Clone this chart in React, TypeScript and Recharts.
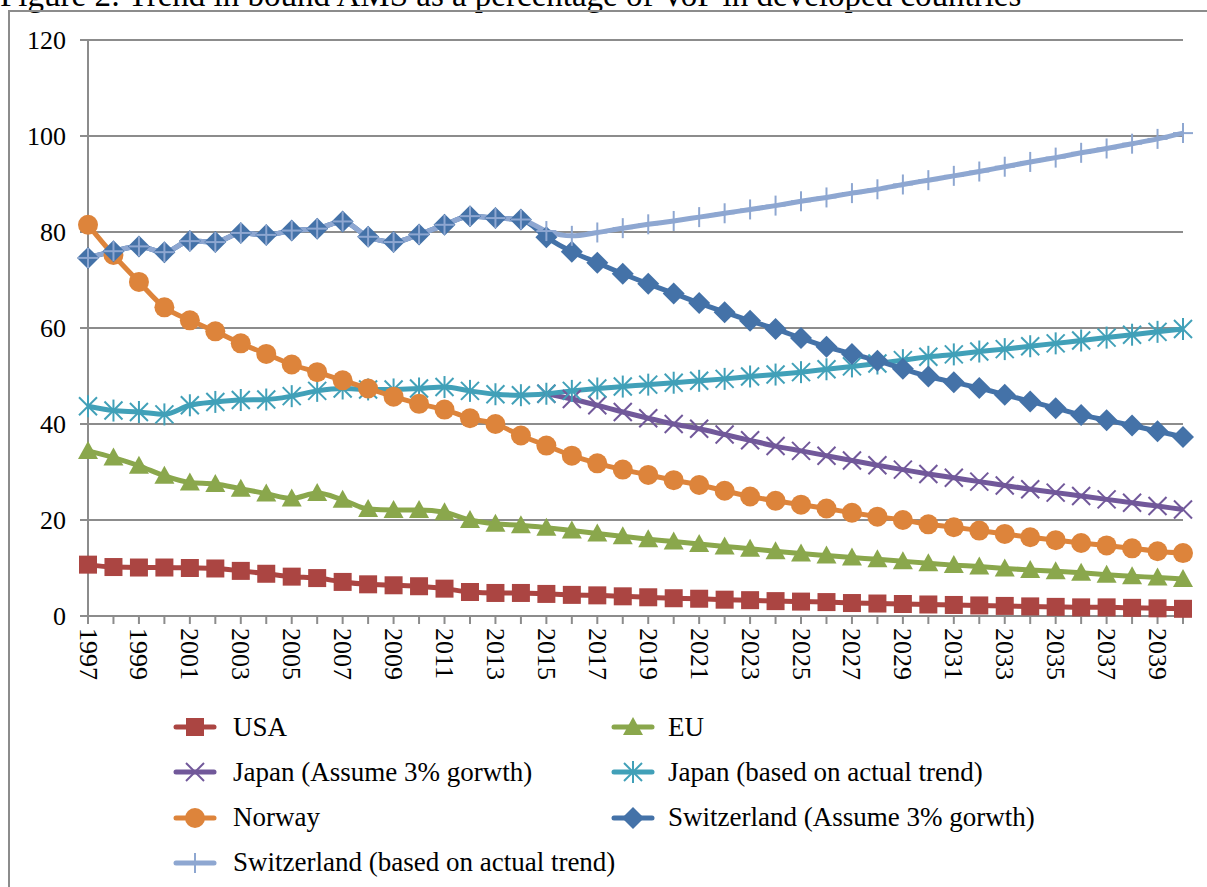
import React from 'react';
import { LineChart, Line, XAxis, YAxis, CartesianGrid, Legend } from 'recharts';

const FONT = "'Liberation Serif', 'Times New Roman', serif";
const GRID = '#8c8c8c';

const years = [
  '1997', '1998', '1999', '2000', '2001', '2002', '2003', '2004', '2005', '2006',
  '2007', '2008', '2009', '2010', '2011', '2012', '2013', '2014', '2015', '2016',
  '2017', '2018', '2019', '2020', '2021', '2022', '2023', '2024', '2025', '2026',
  '2027', '2028', '2029', '2030', '2031', '2032', '2033', '2034', '2035', '2036',
  '2037', '2038', '2039', '2040',
];

const usa = [
  10.7, 10.2, 10.1, 10.1, 10.0, 9.9, 9.4, 8.8, 8.2, 7.9,
  7.1, 6.6, 6.4, 6.2, 5.7, 5.0, 4.8, 4.8, 4.6, 4.4,
  4.3, 4.1, 3.9, 3.7, 3.6, 3.4, 3.3, 3.1, 3.0, 2.9,
  2.7, 2.6, 2.5, 2.4, 2.3, 2.2, 2.1, 2.0, 1.9, 1.8,
  1.8, 1.7, 1.6, 1.5,
];

const eu = [
  34.4, 33.0, 31.3, 29.2, 27.8, 27.5, 26.5, 25.5, 24.5, 25.6,
  24.2, 22.3, 22.1, 22.1, 21.6, 20.0, 19.2, 18.9, 18.4, 17.8,
  17.2, 16.6, 16.0, 15.5, 15.0, 14.5, 14.0, 13.5, 13.0, 12.6,
  12.2, 11.8, 11.4, 11.0, 10.6, 10.3, 9.9, 9.6, 9.3, 9.0,
  8.6, 8.3, 8.0, 7.7,
];

const japan3 = [
  null, null, null, null, null, null, null, null, null, null,
  null, null, null, null, null, null, null, null, 46.3, 45.2,
  43.9, 42.5, 41.2, 40.0, 39.0, 37.8, 36.6, 35.4, 34.4, 33.4,
  32.4, 31.4, 30.5, 29.6, 28.8, 28.0, 27.2, 26.4, 25.7, 25.0,
  24.3, 23.6, 22.9, 22.2,
];

const japanTrend = [
  43.7, 42.8, 42.5, 42.0, 43.9, 44.6, 45.0, 45.1, 45.8, 46.9,
  47.4, 47.2, 47.2, 47.4, 47.7, 46.9, 46.2, 46.0, 46.3, 46.9,
  47.4, 47.8, 48.2, 48.6, 49.0, 49.4, 49.9, 50.3, 50.8, 51.4,
  52.0, 52.6, 53.3, 54.0, 54.5, 55.1, 55.6, 56.2, 56.8, 57.4,
  58.0, 58.6, 59.2, 59.8,
];

const norway = [
  81.5, 75.2, 69.6, 64.3, 61.6, 59.3, 56.8, 54.6, 52.4, 50.8,
  49.1, 47.4, 45.7, 44.2, 43.0, 41.2, 40.0, 37.6, 35.5, 33.4,
  31.8, 30.5, 29.4, 28.3, 27.3, 26.1, 24.9, 24.0, 23.2, 22.4,
  21.5, 20.7, 20.0, 19.1, 18.5, 17.8, 17.1, 16.4, 15.8, 15.2,
  14.7, 14.1, 13.5, 13.1,
];

const swiss3 = [
  74.6, 76.0, 77.0, 75.8, 78.1, 77.9, 79.8, 79.4, 80.3, 80.7,
  82.2, 79.0, 77.9, 79.5, 81.5, 83.3, 82.9, 82.6, 78.9, 75.9,
  73.6, 71.3, 69.2, 67.2, 65.2, 63.3, 61.5, 59.8, 57.9, 56.1,
  54.6, 53.2, 51.5, 49.9, 48.7, 47.5, 46.1, 44.7, 43.3, 41.9,
  40.8, 39.7, 38.5, 37.3,
];

const swissTrend = [
  74.6, 76.0, 77.0, 75.8, 78.1, 77.9, 79.8, 79.4, 80.3, 80.7,
  82.2, 79.0, 77.9, 79.5, 81.5, 83.3, 82.9, 82.6, 80.2, 79.2,
  79.9, 80.8, 81.6, 82.3, 83.1, 83.9, 84.7, 85.5, 86.4, 87.2,
  88.1, 88.9, 89.9, 90.8, 91.7, 92.6, 93.6, 94.6, 95.5, 96.5,
  97.4, 98.4, 99.4, 100.6,
];

const yTicks = [0, 20, 40, 60, 80, 100, 120];

const series = [
  { key: 'usa', name: 'USA', color: '#ab4542', marker: 'square', values: usa },
  { key: 'eu', name: 'EU', color: '#8aa74c', marker: 'triangle', values: eu },
  { key: 'japan3', name: 'Japan (Assume 3% gorwth)', color: '#71589a', marker: 'x', values: japan3 },
  { key: 'japanTrend', name: 'Japan (based on actual trend)', color: '#41a0b8', marker: 'star', values: japanTrend },
  { key: 'norway', name: 'Norway', color: '#dd843b', marker: 'circle', values: norway },
  { key: 'swiss3', name: 'Switzerland (Assume 3% gorwth)', color: '#4472a8', marker: 'diamond', values: swiss3 },
  { key: 'swissTrend', name: 'Switzerland (based on actual trend)', color: '#8ea7d1', marker: 'plus', values: swissTrend },
];

const data = years.map((year, i) => {
  const row: any = { year };
  series.forEach((s) => { row[s.key] = s.values[i]; });
  return row;
});

function Marker({ kind, color, cx, cy }: { kind: string; color: string; cx: number; cy: number }) {
  switch (kind) {
    case 'square':
      return <rect x={cx - 9} y={cy - 9} width={18} height={18} fill={color} />;
    case 'triangle':
      return <polygon points={`${cx},${cy - 10} ${cx + 10},${cy + 8} ${cx - 10},${cy + 8}`} fill={color} />;
    case 'circle':
      return <circle cx={cx} cy={cy} r={10} fill={color} />;
    case 'diamond':
      return <polygon points={`${cx},${cy - 11} ${cx + 11},${cy} ${cx},${cy + 11} ${cx - 11},${cy}`} fill={color} />;
    case 'x':
      return (
        <g stroke={color} strokeWidth={2}>
          <line x1={cx - 9} y1={cy - 9} x2={cx + 9} y2={cy + 9} />
          <line x1={cx - 9} y1={cy + 9} x2={cx + 9} y2={cy - 9} />
        </g>
      );
    case 'star':
      return (
        <g stroke={color} strokeWidth={2}>
          <line x1={cx - 9} y1={cy - 9} x2={cx + 9} y2={cy + 9} />
          <line x1={cx - 9} y1={cy + 9} x2={cx + 9} y2={cy - 9} />
          <line x1={cx} y1={cy - 11} x2={cx} y2={cy + 11} />
        </g>
      );
    case 'plus':
      return (
        <g stroke={color} strokeWidth={2}>
          <line x1={cx} y1={cy - 10} x2={cx} y2={cy + 10} />
          <line x1={cx - 10} y1={cy} x2={cx + 10} y2={cy} />
        </g>
      );
    default:
      return null;
  }
}

// only every second year gets a label, but every year keeps its tick mark
const YearTick = (props: any) => {
  const { x, y, payload, index } = props;
  if (index % 2 !== 0) return <g />;
  return (
    <text
      x={x}
      y={y}
      transform={`rotate(90 ${x} ${y})`}
      textAnchor="start"
      dominantBaseline="central"
      fontFamily={FONT}
      fontSize={26}
      fill="#000"
    >
      {payload.value}
    </text>
  );
};

const LegendBox = () => (
  <div style={{ position: 'relative', width: 1207, height: 187, fontFamily: FONT, fontSize: 27, color: '#000' }}>
    {series.map((s, i) => {
      const col = i % 2;
      const row = Math.floor(i / 2);
      return (
        <div
          key={s.key}
          style={{
            position: 'absolute',
            left: col ? 611 : 173,
            top: 27 + row * 45.3 - 16,
            height: 32,
            display: 'flex',
            alignItems: 'center',
            whiteSpace: 'nowrap',
          }}
        >
          <svg width={44} height={32}>
            <line x1={3} y1={16} x2={41} y2={16} stroke={s.color} strokeWidth={5} strokeLinecap="round" />
            <Marker kind={s.marker} color={s.color} cx={22} cy={16} />
          </svg>
          <span style={{ marginLeft: col ? 13 : 16 }}>{s.name}</span>
        </div>
      );
    })}
  </div>
);

export default function App() {
  return (
    <div style={{ position: 'absolute', left: 0, top: 0, width: 1207, height: 887, overflow: 'hidden', background: '#fff' }}>
      <svg width={1207} height={40} style={{ position: 'absolute', left: 0, top: 0 }}>
        <text x={0} y={6} fontFamily={FONT} fontSize={33} fill="#000">
          Figure 2: Trend in bound AMS as a percentage of VoP in developed countries
        </text>
      </svg>
      <div style={{ position: 'absolute', left: 8, top: 10, width: 1300, height: 1000, border: `2px solid ${GRID}` }} />
      <div style={{ position: 'absolute', left: 0, top: 0 }}>
        <LineChart width={1207} height={887} data={data} margin={{ top: 40, right: 24, left: 0, bottom: 187 }}>
          <CartesianGrid vertical={false} stroke={GRID} strokeWidth={2} />
          <XAxis
            dataKey="year"
            interval={0}
            height={84}
            tickSize={8}
            tickMargin={4}
            tick={YearTick}
            axisLine={{ stroke: GRID, strokeWidth: 2 }}
            tickLine={{ stroke: GRID, strokeWidth: 2 }}
            padding={{ left: 0, right: 0 }}
          />
          <YAxis
            domain={[0, 120]}
            ticks={yTicks}
            width={88}
            tickSize={8}
            tickMargin={14}
            axisLine={{ stroke: GRID, strokeWidth: 2 }}
            tickLine={{ stroke: GRID, strokeWidth: 2 }}
            tick={{ fill: '#000', fontSize: 26, fontFamily: FONT }}
          />
          {series.map((s) => (
            <Line
              key={s.key}
              dataKey={s.key}
              name={s.name}
              type="monotone"
              stroke={s.color}
              strokeWidth={5}
              isAnimationActive={false}
              activeDot={false}
              dot={(p: any) => {
                if (p.cy == null || p.value == null) return <g key={`${s.key}-${p.index}`} />;
                return (
                  <g key={`${s.key}-${p.index}`}>
                    <Marker kind={s.marker} color={s.color} cx={p.cx} cy={p.cy} />
                  </g>
                );
              }}
            />
          ))}
          <Legend
            layout="vertical"
            align="center"
            verticalAlign="middle"
            content={() => <LegendBox />}
            wrapperStyle={{ left: 0, top: 700, width: 1207, height: 187 }}
          />
        </LineChart>
      </div>
    </div>
  );
}
